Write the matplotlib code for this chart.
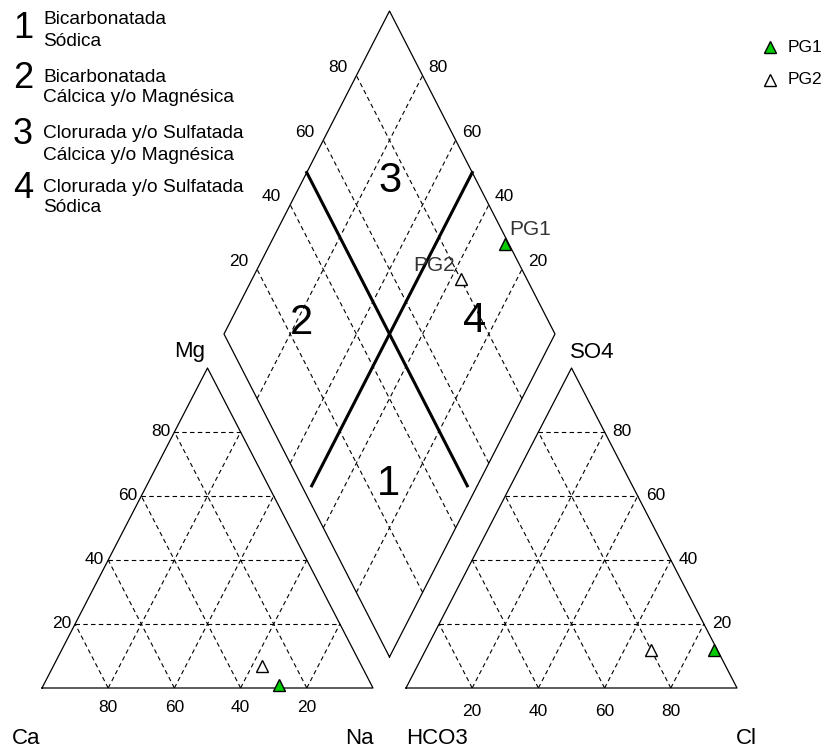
import matplotlib
matplotlib.use('Agg')
import matplotlib.pyplot as plt

plt.rcParams['font.family'] = ['Liberation Sans', 'DejaVu Sans']

# sample data (percent of meq)
samples = ['PG1', 'PG2']
ca = [28, 30]
mg = [1, 7]
na = [71, 63]
hco3 = [1, 20]
so4 = [12, 12]
cl = [87, 68]
fills = ['#00cc00', 'white']

ticks = [20, 40, 60, 80]
types = ['1', '2', '3', '4']
type_text = [('Bicarbonatada', 'Sódica'),
             ('Bicarbonatada', 'Cálcica y/o Magnésica'),
             ('Clorurada y/o Sulfatada', 'Cálcica y/o Magnésica'),
             ('Clorurada y/o Sulfatada', 'Sódica')]

# layout (axes units == pixels, y down)
W, H = 331, 320
BASE = 688
LX0 = 42
GAP = 33
RX0 = LX0 + W + GAP
DBX, DBY, DH = LX0 + W + GAP / 2, 657, 323


def tri(x0, right, top):
    return x0 + W * (right + top / 2), BASE - H * top


def dia(a, b):
    return DBX + (b - a) * W / 2, DBY - (a + b) * DH


fig = plt.figure(figsize=(8.3, 7.51), dpi=100)
ax = fig.add_axes([0, 0, 1, 1])
ax.set_xlim(0, 830)
ax.set_ylim(751, 0)
ax.axis('off')

dash = dict(color='black', lw=0.8, linestyle=(0, (4, 3)))
solid = dict(color='black', lw=0.9)

for x0 in [LX0, RX0]:
    pts = [tri(x0, 0, 0), tri(x0, 1, 0), tri(x0, 0, 1), tri(x0, 0, 0)]
    ax.plot([p[0] for p in pts], [p[1] for p in pts], **solid)
    for t in ticks:
        k = t / 100
        for p, q in [((0, k), (1 - k, k)), ((k, 0), (k, 1 - k)), ((1 - k, 0), (0, 1 - k))]:
            a = tri(x0, *p)
            b = tri(x0, *q)
            ax.plot([a[0], b[0]], [a[1], b[1]], **dash)

pts = [dia(0, 0), dia(1, 0), dia(1, 1), dia(0, 1), dia(0, 0)]
ax.plot([p[0] for p in pts], [p[1] for p in pts], **solid)
for t in ticks:
    k = t / 100
    for p, q in [((k, 0), (k, 1)), ((0, k), (1, k))]:
        a = dia(*p)
        b = dia(*q)
        ax.plot([a[0], b[0]], [a[1], b[1]], **dash)

# dividing lines
for p, q in [((0.03, 0.5), (1, 0.5)), ((0.5, 0.03), (0.5, 1))]:
    a = dia(*p)
    b = dia(*q)
    ax.plot([a[0], b[0]], [a[1], b[1]], color='black', lw=2.2)

# tick labels
tfs = 12.5
for t in ticks:
    x, y = tri(LX0, 1 - t / 100, 0)
    ax.text(x, y + 19, str(t), ha='center', va='center', fontsize=tfs)
    x, y = tri(LX0, 0, t / 100)
    ax.text(x - 4, y, str(t), ha='right', va='center', fontsize=tfs)
    x, y = tri(RX0, t / 100, 0)
    ax.text(x, y + 24, str(t), ha='center', va='center', fontsize=tfs)
    x, y = tri(RX0, 1 - t / 100, t / 100)
    ax.text(x + 8, y, str(t), ha='left', va='center', fontsize=tfs)
    x, y = dia(1, t / 100)
    ax.text(x - 9, y - 8, str(t), ha='right', va='center', fontsize=tfs)
    x, y = dia(t / 100, 1)
    ax.text(x + 6, y - 8, str(t), ha='left', va='center', fontsize=tfs)

# axis names
afs = 16
for name, (x, y) in [('Mg', (190, 352)), ('SO4', (592, 352)), ('Ca', (26, 738)),
                     ('Na', (359, 738)), ('HCO3', (437, 738)), ('Cl', (746, 738))]:
    ax.text(x, y, name, ha='center', va='center', fontsize=afs)

# region numbers
for num, (x, y) in zip(types, [(388, 484), (301, 323), (390, 181), (475, 321)]):
    ax.text(x, y, num, ha='center', va='center', fontsize=30)

# type legend
for num, lines, yc, y1, y2 in zip(types, type_text, [28, 79, 135, 189],
                                  [20, 77, 134, 187], [42, 98, 155, 208]):
    ax.text(23, yc, num, ha='center', va='center', fontsize=26)
    ax.text(43, y1, lines[0], ha='left', va='center', fontsize=13.8)
    ax.text(43, y2, lines[1], ha='left', va='center', fontsize=13.8)

# sample points
for i, s in enumerate(samples):
    px, py = tri(LX0, na[i] / 100, mg[i] / 100)
    ax.plot(px, py, marker='^', ms=9, mfc=fills[i], mec='black', mew=1, ls='none')
    px, py = tri(RX0, cl[i] / 100, so4[i] / 100)
    ax.plot(px, py, marker='^', ms=9, mfc=fills[i], mec='black', mew=1, ls='none')
    px, py = dia((ca[i] + mg[i]) / 100, (so4[i] + cl[i]) / 100)
    ax.plot(px, py, marker='^', ms=9, mfc=fills[i], mec='black', mew=1, ls='none')
    if i == 0:
        ax.text(px + 4, py - 14, s, ha='left', va='center', fontsize=15, color='#333333')
    else:
        ax.text(px - 6, py - 14, s, ha='right', va='center', fontsize=15, color='#333333')
    # right legend
    ly = 47 + 33 * i
    ax.plot(770, ly, marker='^', ms=9, mfc=fills[i], mec='black', mew=1, ls='none')
    ax.text(788, ly, s, ha='left', va='center', fontsize=12.5)

fig.savefig('out.png', dpi=100)
